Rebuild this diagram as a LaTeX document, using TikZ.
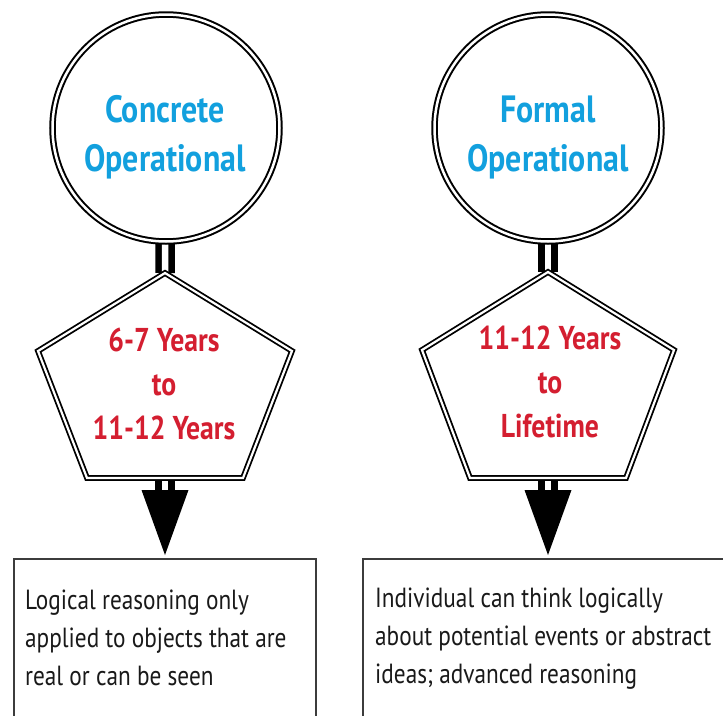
\documentclass[tikz,border=0pt]{standalone}
\usepackage{fontspec}
\newfontfamily\condfont[FakeStretch=0.84]{PT Sans}
\usetikzlibrary{calc}
\definecolor{stageblue}{RGB}{18,160,222}
\definecolor{agered}{RGB}{212,30,48}
\definecolor{boxgray}{RGB}{60,60,60}
\tikzset{
  stagecircle/.style={circle, draw=black, line width=2pt, double=white, double distance=2.5pt, fill=white, minimum size=227pt, inner sep=0pt},
  agepent/.style={draw=black, line width=1.8pt, double=white, double distance=2.2pt, fill=white, line join=miter},
  link/.style={draw=black, line width=6.5pt, double=white, double distance=6.5pt},
  tip/.style={fill=black},
  descbox/.style={draw=boxgray, line width=1.5pt, fill=white, anchor=north west, inner sep=0pt},
  bluetxt/.style={text=stageblue, font=\condfont\bfseries\fontsize{38}{49}\selectfont, align=center, inner sep=0pt},
  redtxt/.style={text=agered, font=\condfont\bfseries\fontsize{33}{44}\selectfont, align=center, inner sep=0pt},
  desctxt/.style={text=black!90, font=\condfont\fontsize{27.7}{38}\selectfont, align=left, anchor=north west, inner sep=0pt},
}
\begin{document}
\begin{tikzpicture}[x=1pt,y=-1pt]
\clip (0,0) rectangle (723,715);
\fill[white] (0,0) rectangle (723,715);
% coordinates
\coordinate (c1c) at (166,128);
\coordinate (c2c) at (548,128);
\coordinate (p1top) at (165,273);
\coordinate (p1r) at (292,351);
\coordinate (p1br) at (243,478);
\coordinate (p1bl) at (87,478);
\coordinate (p1l) at (38,351);
\coordinate (p2top) at (548,272);
\coordinate (p2r) at (674,350);
\coordinate (p2br) at (626,478);
\coordinate (p2bl) at (470,478);
\coordinate (p2l) at (422,350);
\coordinate (p1bot) at (165,478);
\coordinate (p2bot) at (548,478);
\coordinate (a1) at (165,490);
\coordinate (a2) at (548,490);
\coordinate (t1) at (165,555);
\coordinate (t2) at (548,555);
% boxes
\node[descbox, minimum width=302pt, minimum height=190pt] (b1) at (13,558) {};
\node[descbox, minimum width=380pt, minimum height=190pt] (b2) at (362,558) {};
% connectors
\draw[link] (c1c) -- (p1top);
\draw[link] (c2c) -- (p2top);
\draw[link] (p1bot) -- (a1);
\draw[link] (p2bot) -- (a2);
\fill[tip] ($(a1)+(-23.5,0)$) -- ($(a1)+(23.5,0)$) -- (t1) -- cycle;
\fill[tip] ($(a2)+(-23.5,0)$) -- ($(a2)+(23.5,0)$) -- (t2) -- cycle;
% shapes
\node[stagecircle] (c1) at (c1c) {};
\node[stagecircle] (c2) at (c2c) {};
\path[agepent] (p1top) -- (p1r) -- (p1br) -- (p1bl) -- (p1l) -- cycle;
\path[agepent] (p2top) -- (p2r) -- (p2br) -- (p2bl) -- (p2l) -- cycle;
% texts
\node[bluetxt] (c1t) at (165,137) {Concrete\\Operational};
\node[bluetxt] (c2t) at (548,137) {Formal\\Operational};
\node[redtxt] (p1t) at (164,384) {6-7 Years\\to\\11-12 Years};
\node[redtxt] (p2t) at (550,382) {11-12 Years\\to\\Lifetime};
\node[desctxt] (b1t) at (25,590) {Logical reasoning only\\applied to objects that are\\real or can be seen};
\node[desctxt] (b2t) at (375,588) {Individual can think logically\\about potential events or abstract\\ideas; advanced reasoning};
\end{tikzpicture}
\end{document}
